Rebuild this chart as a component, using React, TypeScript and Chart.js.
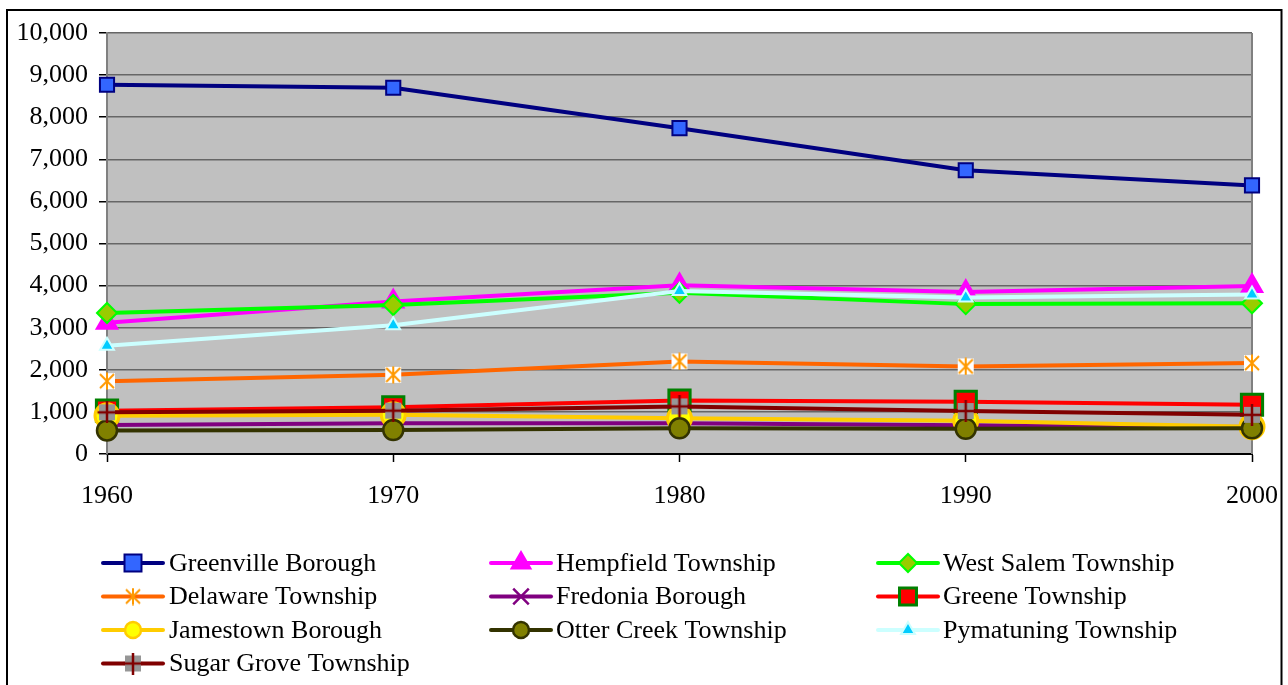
import React, { useEffect, useRef } from "react";
import { Chart, registerables } from "chart.js";
import { drawPoint } from "chart.js/helpers";

Chart.register(...registerables);

const years = ["1960", "1970", "1980", "1990", "2000"];
const yTicks = [0, 1000, 2000, 3000, 4000, 5000, 6000, 7000, 8000, 9000, 10000];

const greenvilleBorough = [8770, 8700, 7740, 6740, 6380];
const hempfieldTownship = [3120, 3620, 4010, 3850, 3990];
const westSalemTownship = [3350, 3540, 3830, 3560, 3580];
const delawareTownship = [1730, 1880, 2200, 2080, 2160];
const fredoniaBorough = [690, 730, 730, 680, 640];
const greeneTownship = [1030, 1110, 1270, 1240, 1170];
const jamestownBorough = [910, 930, 850, 790, 650];
const otterCreekTownship = [560, 570, 610, 600, 610];
const pymatuningTownship = [2570, 3060, 3870, 3720, 3790];
const sugarGroveTownship = [990, 1030, 1130, 1020, 930];

const FONT = '"Liberation Serif", "Times New Roman", serif';
const FS = 26;

function makeStar(withBg: boolean): HTMLCanvasElement {
  const c = document.createElement("canvas");
  c.width = 18;
  c.height = 18;
  const g = c.getContext("2d")!;
  if (withBg) {
    g.fillStyle = "#ffffff";
    g.fillRect(1, 1, 16, 16);
  }
  g.strokeStyle = "#FF9900";
  g.lineWidth = 2;
  g.beginPath();
  g.moveTo(2, 2);
  g.lineTo(16, 16);
  g.moveTo(16, 2);
  g.lineTo(2, 16);
  g.moveTo(9, 0.5);
  g.lineTo(9, 17.5);
  g.stroke();
  return c;
}

function makePlus(): HTMLCanvasElement {
  const c = document.createElement("canvas");
  c.width = 20;
  c.height = 22;
  const g = c.getContext("2d")!;
  g.fillStyle = "#969696";
  g.fillRect(2, 3, 16, 16);
  g.strokeStyle = "#800000";
  g.lineWidth = 2.5;
  g.beginPath();
  g.moveTo(10, 0);
  g.lineTo(10, 22);
  g.moveTo(0.5, 11);
  g.lineTo(19.5, 11);
  g.stroke();
  return c;
}

export default function App() {
  const ref = useRef<HTMLCanvasElement | null>(null);

  useEffect(() => {
    const star = makeStar(true);
    const starLegend = makeStar(false);
    const plus = makePlus();

    const series: any[] = [
      { label: "Greenville Borough", data: greenvilleBorough, borderColor: "#000080", pointBackgroundColor: "#3366FF", pointBorderColor: "#000080", pointStyle: "rect", pointRadius: 10, pointBorderWidth: 2, lg: { r: 12, bw: 2 } },
      { label: "Hempfield Township", data: hempfieldTownship, borderColor: "#FF00FF", pointBackgroundColor: "#FF00FF", pointBorderColor: "#FF00FF", pointStyle: "triangle", pointRadius: 12, pointBorderWidth: 2, lg: { r: 11, bw: 2 } },
      { label: "West Salem Township", data: westSalemTownship, borderColor: "#00FF00", pointBackgroundColor: "#99CC00", pointBorderColor: "#00FF00", pointStyle: "rectRot", pointRadius: 10, pointBorderWidth: 2, lg: { r: 9, bw: 2 } },
      { label: "Delaware Township", data: delawareTownship, borderColor: "#FF6600", pointBackgroundColor: "#FF9900", pointBorderColor: "#FF9900", pointStyle: star, pointRadius: 9, pointBorderWidth: 2, lg: { img: starLegend } },
      { label: "Fredonia Borough", data: fredoniaBorough, borderColor: "#800080", pointBackgroundColor: "#800080", pointBorderColor: "#800080", pointStyle: "crossRot", pointRadius: 10, pointBorderWidth: 2.5, lg: { r: 11, bw: 2.5 } },
      { label: "Greene Township", data: greeneTownship, borderColor: "#FF0000", pointBackgroundColor: "#FF0000", pointBorderColor: "#008000", pointStyle: "rect", pointRadius: 15, pointBorderWidth: 3, lg: { r: 12, bw: 3 } },
      { label: "Jamestown Borough", data: jamestownBorough, borderColor: "#FFCC00", pointBackgroundColor: "#FFFF00", pointBorderColor: "#FFCC00", pointStyle: "circle", pointRadius: 12, pointBorderWidth: 3, lg: { r: 8, bw: 2.5 } },
      { label: "Otter Creek Township", data: otterCreekTownship, borderColor: "#333300", pointBackgroundColor: "#808000", pointBorderColor: "#333300", pointStyle: "circle", pointRadius: 10, pointBorderWidth: 2.5, lg: { r: 8, bw: 2.5 } },
      { label: "Pymatuning Township", data: pymatuningTownship, borderColor: "#CCFFFF", pointBackgroundColor: "#00CCFF", pointBorderColor: "#CCFFFF", pointStyle: "triangle", pointRadius: 8, pointBorderWidth: 2, lg: { r: 8, bw: 2 } },
      { label: "Sugar Grove Township", data: sugarGroveTownship, borderColor: "#800000", pointBackgroundColor: "#969696", pointBorderColor: "#800000", pointStyle: plus, pointRadius: 9, pointBorderWidth: 2, lg: { img: plus } },
    ];

    const datasets = series.map((s, i) => ({
      label: s.label,
      data: s.data,
      borderColor: s.borderColor,
      backgroundColor: s.pointBackgroundColor,
      borderWidth: 4,
      borderJoinStyle: "round",
      borderCapStyle: "round",
      tension: 0,
      pointStyle: s.pointStyle,
      pointRadius: s.pointRadius,
      pointHoverRadius: s.pointRadius,
      pointBackgroundColor: s.pointBackgroundColor,
      pointBorderColor: s.pointBorderColor,
      pointBorderWidth: s.pointBorderWidth,
      clip: false,
      order: 20 - i,
    }));

    const framePlugin = {
      id: "frame",
      beforeDraw(chart: any) {
        const { ctx, chartArea: a } = chart;
        ctx.save();
        ctx.fillStyle = "#ffffff";
        ctx.fillRect(0, 0, chart.width, chart.height);
        ctx.fillStyle = "#C0C0C0";
        ctx.fillRect(a.left, a.top, a.right - a.left, a.bottom - a.top);
        ctx.strokeStyle = "#000000";
        ctx.lineWidth = 2;
        ctx.strokeRect(7, 10, 1274.5, 700);
        ctx.restore();
      },
      beforeDatasetsDraw(chart: any) {
        const { ctx, chartArea: a } = chart;
        ctx.save();
        ctx.strokeStyle = "#808080";
        ctx.lineWidth = 2;
        ctx.beginPath();
        ctx.moveTo(a.right, a.top);
        ctx.lineTo(a.right, a.bottom);
        ctx.stroke();
        ctx.restore();
      },
      afterDraw(chart: any) {
        const { ctx } = chart;
        const lineX = [103, 491, 878];
        const textX = [169, 556, 943];
        ctx.save();
        series.forEach((s, i) => {
          const col = i % 3;
          const row = Math.floor(i / 3);
          const y = 563 + row * 33.5;
          const x0 = lineX[col];
          ctx.strokeStyle = s.borderColor;
          ctx.lineWidth = 4;
          ctx.lineCap = "round";
          ctx.beginPath();
          ctx.moveTo(x0, y);
          ctx.lineTo(x0 + 60, y);
          ctx.stroke();
          ctx.lineCap = "butt";
          ctx.fillStyle = s.pointBackgroundColor;
          ctx.strokeStyle = s.pointBorderColor;
          if (s.lg.img) {
            drawPoint(ctx, { pointStyle: s.lg.img, radius: 9, borderWidth: 0, rotation: 0 } as any, x0 + 30, y);
          } else {
            ctx.lineWidth = s.lg.bw;
            drawPoint(ctx, { pointStyle: s.pointStyle, radius: s.lg.r, borderWidth: s.lg.bw, rotation: 0 } as any, x0 + 30, y);
          }
          ctx.fillStyle = "#000000";
          ctx.font = `${FS}px ${FONT}`;
          ctx.textAlign = "left";
          ctx.textBaseline = "middle";
          ctx.fillText(s.label, textX[col], y + 1);
        });
        ctx.restore();
      },
    };

    const chart = new Chart(ref.current!, {
      type: "line",
      data: { labels: years, datasets: datasets as any },
      options: {
        responsive: false,
        animation: false,
        events: [],
        layout: { padding: { left: 0, top: 33, right: 36, bottom: 0 } },
        plugins: {
          legend: { display: false },
          tooltip: { enabled: false },
          title: { display: false },
        },
        scales: {
          x: {
            type: "category",
            offset: false,
            afterFit: (s: any) => {
              s.height = 231;
              s.paddingLeft = 0;
              s.paddingRight = 0;
            },
            grid: {
              drawOnChartArea: false,
              drawTicks: true,
              tickLength: 8,
              tickColor: "#000000",
              tickWidth: 1.5,
            },
            border: { display: true, color: "#000000", width: 2 },
            ticks: {
              color: "#000000",
              font: { family: FONT, size: FS },
              padding: 19,
              maxRotation: 0,
              autoSkip: false,
            },
          },
          y: {
            min: 0,
            max: 10000,
            afterFit: (s: any) => {
              s.width = 107;
              s.paddingTop = 0;
              s.paddingBottom = 0;
            },
            afterBuildTicks: (s: any) => {
              s.ticks = yTicks.map((v) => ({ value: v }));
            },
            grid: {
              color: "#666666",
              lineWidth: 1.5,
              drawTicks: true,
              tickLength: 8,
              tickColor: "#000000",
              tickWidth: 1.5,
            },
            border: { display: true, color: "#808080", width: 2 },
            ticks: {
              color: "#000000",
              font: { family: FONT, size: FS },
              padding: 11,
              callback: (v: any) => Number(v).toLocaleString("en-US"),
            },
          },
        },
      },
      plugins: [framePlugin],
    });

    return () => chart.destroy();
  }, []);

  return (
    <div style={{ position: "fixed", left: 0, top: 0, width: 1288, height: 685, background: "#fff" }}>
      <canvas ref={ref} width={1288} height={685} style={{ display: "block", width: 1288, height: 685 }} />
    </div>
  );
}
